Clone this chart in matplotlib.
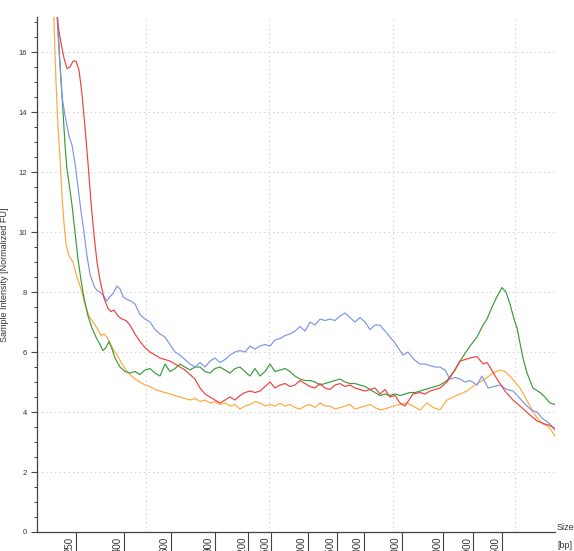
import matplotlib
matplotlib.use("Agg")
import matplotlib.pyplot as plt
from matplotlib.transforms import ScaledTranslation

# ---- data (x = migration position, y = normalized FU) ----
red_x = [56,58,61,64,67,70,73,76,79,82,85,88,91,94,97,100,104,108,111,114,118,122,126,130,135,140,145,150,155,160,165,170,175,180,185,190,195,200,205,210,215,220,225,230,235,240,245,250,255,260,265,270,275,280,285,290,295,300,305,310,315,320,325,330,335,340,345,350,355,360,365,370,375,380,385,390,395,400,405,409,413,420,425,430,435,440,447,453,460,465,470,477,483,487,490,497,505,513,520,525,530,537,545,550,555]
red_y = [18.0,16.9,16.3,15.8,15.45,15.5,15.7,15.7,15.4,14.6,13.5,12.3,11.0,9.9,9.0,8.4,7.8,7.45,7.35,7.4,7.2,7.1,7.05,6.9,6.6,6.35,6.15,6.0,5.9,5.8,5.75,5.7,5.6,5.5,5.4,5.25,5.1,4.8,4.6,4.5,4.4,4.3,4.4,4.5,4.4,4.55,4.65,4.7,4.65,4.7,4.85,5.0,4.8,4.9,4.95,4.85,4.9,5.05,4.95,4.85,4.8,4.95,4.8,4.75,4.9,4.95,4.85,4.9,4.8,4.75,4.7,4.75,4.8,4.6,4.75,4.5,4.55,4.3,4.2,4.4,4.6,4.65,4.6,4.7,4.75,4.8,5.0,5.3,5.7,5.75,5.8,5.85,5.6,5.65,5.5,5.1,4.7,4.4,4.2,4.05,3.9,3.7,3.6,3.55,3.45]

green_x = [56,58,60,62,65,67,70,72,75,78,81,84,88,92,96,100,103,106,109,112,115,120,125,130,135,140,145,150,155,160,165,170,175,180,185,190,195,200,205,210,215,220,225,230,235,240,245,250,255,260,265,270,275,280,285,290,295,300,305,310,315,320,325,330,335,340,345,350,355,360,365,370,375,380,385,390,395,400,405,410,415,420,425,430,435,440,447,455,460,465,470,477,483,487,492,497,502,506,510,514,517,520,523,527,533,540,545,550,555]
green_y = [18.0,16.8,15.6,14.6,12.9,12.1,11.4,10.9,10.0,9.1,8.4,7.8,7.2,6.8,6.5,6.25,6.05,6.15,6.35,6.1,5.8,5.5,5.35,5.3,5.35,5.25,5.4,5.45,5.3,5.2,5.6,5.35,5.45,5.6,5.5,5.4,5.5,5.5,5.35,5.3,5.45,5.5,5.4,5.3,5.45,5.5,5.35,5.2,5.45,5.2,5.35,5.6,5.35,5.4,5.45,5.35,5.2,5.1,5.05,5.05,5.0,4.9,4.95,5.0,5.05,5.1,5.0,4.95,4.95,4.9,4.85,4.75,4.65,4.55,4.6,4.55,4.6,4.55,4.6,4.65,4.65,4.7,4.75,4.8,4.85,4.9,5.05,5.4,5.7,5.95,6.2,6.5,6.9,7.1,7.5,7.85,8.15,8.0,7.6,7.1,6.8,6.3,5.8,5.3,4.8,4.65,4.5,4.3,4.25]

blue_x = [56,58,62,65,69,72,75,78,81,84,87,90,94,97,100,103,107,110,113,117,120,123,127,131,135,140,145,150,155,160,165,170,175,180,185,190,195,200,205,210,215,220,225,230,235,240,245,250,255,260,265,270,275,280,285,290,295,300,305,310,315,320,325,330,335,340,345,350,355,360,365,370,375,380,385,390,395,400,403,408,414,420,425,430,435,440,445,450,455,460,465,470,477,482,488,494,500,507,513,520,527,532,537,542,546,550,555]
blue_y = [18.0,16.6,14.5,13.9,13.2,12.9,12.3,11.5,10.7,10.0,9.2,8.6,8.2,8.05,8.0,7.9,7.7,7.85,7.95,8.2,8.1,7.85,7.75,7.7,7.6,7.25,7.1,7.0,6.75,6.6,6.5,6.25,6.0,5.9,5.75,5.6,5.5,5.65,5.5,5.7,5.8,5.65,5.75,5.9,6.0,6.05,6.0,6.2,6.1,6.2,6.25,6.2,6.4,6.45,6.55,6.6,6.7,6.85,6.7,7.0,6.9,7.1,7.05,7.1,7.05,7.2,7.3,7.15,7.0,7.15,7.0,6.75,6.9,6.9,6.7,6.5,6.3,6.05,5.9,6.0,5.75,5.6,5.6,5.55,5.5,5.5,5.4,5.1,5.15,5.1,5.0,5.05,4.9,5.2,4.8,4.85,4.9,4.75,4.7,4.45,4.2,4.05,4.0,3.8,3.7,3.6,3.4]

orange_x = [52,54,56,58,60,62,64,66,69,73,77,81,85,89,93,97,101,104,107,110,114,118,122,126,130,135,140,145,150,155,160,165,170,175,180,185,190,195,200,205,210,215,220,225,230,235,240,245,250,255,260,265,270,275,280,285,290,295,300,305,310,315,320,325,330,335,340,345,350,355,360,365,370,375,380,385,393,400,407,413,420,427,433,440,447,453,460,467,473,480,487,493,500,505,510,515,520,525,530,535,540,543,547,551,555]
orange_y = [18.0,17.0,15.0,13.5,12.5,11.2,10.3,9.6,9.2,9.0,8.5,8.1,7.6,7.2,7.0,6.8,6.55,6.6,6.5,6.3,6.05,5.85,5.6,5.4,5.25,5.1,5.0,4.9,4.85,4.75,4.7,4.65,4.6,4.55,4.5,4.45,4.4,4.45,4.35,4.4,4.3,4.35,4.25,4.3,4.2,4.25,4.1,4.2,4.25,4.35,4.3,4.2,4.25,4.2,4.3,4.2,4.25,4.15,4.1,4.2,4.25,4.15,4.3,4.2,4.2,4.1,4.15,4.2,4.25,4.1,4.15,4.2,4.25,4.15,4.07,4.1,4.2,4.25,4.3,4.2,4.07,4.3,4.15,4.07,4.4,4.5,4.6,4.7,4.85,5.0,5.15,5.3,5.4,5.35,5.2,5.0,4.8,4.5,4.2,3.9,3.7,3.6,3.55,3.4,3.2]

ladder_labels = ["250","400","600","900","1200","1500","2000","2500","3000","4000","7000","15000","48500"]
ladder_pos = [76,124,171,215,248,271,308,337,364,402,443,473,502]
y_ticks = [0,2,4,6,8,10,12,14,16]
x_grid = [146,269,393,515]

# ---- figure ----
plt.rcParams['font.family'] = ['Liberation Sans', 'DejaVu Sans']
fig = plt.figure(figsize=(5.74, 5.51), dpi=100)
ax = fig.add_axes([37/574, 19/551, (555-37)/574, (532-17)/551])

ax.set_xlim(37, 555)
ax.set_ylim(0, 17.17)

for gx in x_grid:
    ax.axvline(gx, color='#c8c8c8', linestyle=(0, (1, 3)), lw=0.8, zorder=0)
for gy in y_ticks[1:]:
    ax.axhline(gy, color='#c8c8c8', linestyle=(0, (1, 3)), lw=0.8, zorder=0)

ax.plot(orange_x, orange_y, color='#ffa83c', lw=0.85, zorder=2)
ax.plot(green_x, green_y, color='#3a9a3a', lw=0.85, zorder=3)
ax.plot(blue_x, blue_y, color='#7d95e6', lw=0.85, zorder=4)
ax.plot(red_x, red_y, color='#f04040', lw=0.85, zorder=5)

for s in ['top', 'right']:
    ax.spines[s].set_visible(False)
for s in ['left', 'bottom']:
    ax.spines[s].set_color('#444444')
    ax.spines[s].set_linewidth(0.9)

ax.set_yticks(y_ticks)
ax.set_yticks([v + 0.5 * k for v in y_ticks[:-1] for k in (1, 2, 3)] + [16.5, 17.0], minor=True)
ax.tick_params(axis='y', which='major', length=4, width=0.8, color='#444444',
               labelsize=5.5, labelcolor='#333333', pad=3)
ax.tick_params(axis='y', which='minor', length=2.5, width=0.7, color='#444444')

ax.set_xticks(ladder_pos)
ax.set_xticklabels(ladder_labels, rotation=90, va='top', ha='center')
ax.tick_params(axis='x', which='major', length=16, width=0.8, color='#444444',
               labelsize=7, labelcolor='#333333', pad=-12.5)
offset = ScaledTranslation(-6/100, 0, fig.dpi_scale_trans)
for lab in ax.get_xticklabels():
    lab.set_transform(lab.get_transform() + offset)

ax.set_ylabel('Sample Intensity [Normalized FU]', fontsize=6.5, color='#333333', labelpad=7)

fig.text(557/574, 1 - 527/551, 'Size', fontsize=6.5, color='#333333', ha='left', va='center')
fig.text(557/574, 1 - 545/551, '[bp]', fontsize=6.5, color='#333333', ha='left', va='center')

fig.savefig('out.png', dpi=100)
